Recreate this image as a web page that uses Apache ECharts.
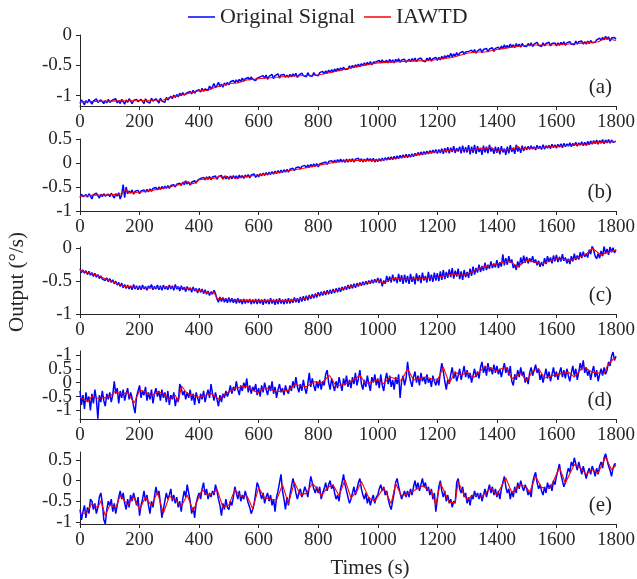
<!DOCTYPE html>
<html>
<head>
<meta charset="utf-8">
<script src="https://cdn.jsdelivr.net/npm/echarts@6/dist/echarts.min.js"></script>
<style>
  html, body { margin: 0; padding: 0; background: #fff; }
  #chart { width: 637px; height: 579px; }
</style>
</head>
<body>
<div id="chart"></div>
<script>
// 采样时间 (s)，每 5 s 一个点
const times = [];
for (let t = 0; t <= 1800; t += 5) times.push(t);

// 原始信号 (a)-(e)，按 times 取值，每行 100 s
const signalA = [
  -1.13,-1.07,-1.11,-1.15,-1.08,-1.12,-1.06,-1.10,-1.14,-1.09,-1.12,-1.05,-1.11,-1.14,-1.07,-1.10,-1.13,-1.08,-1.12,-1.06,
  -1.11,-1.14,-1.07,-1.10,-1.05,-1.12,-1.08,-1.13,-1.06,-1.10,-1.14,-1.07,-1.11,-1.05,-1.09,-1.13,-1.08,-1.11,-1.06,-1.10,
  -1.12,-1.06,-1.09,-1.13,-1.05,-1.10,-1.07,-1.12,-1.04,-1.09,-1.11,-1.05,-1.08,-1.12,-1.04,-1.09,-1.06,-1.11,-1.03,-1.07,
  -1.06,-1.01,-1.05,-0.99,-1.03,-0.98,-1.02,-0.96,-1.00,-0.95,-0.99,-1.02,-0.95,-0.98,-0.93,-0.97,-0.91,-0.96,-0.92,-0.95,
  -0.90,-0.94,-0.88,-0.93,-0.89,-0.86,-0.91,-0.84,-0.89,-0.85,-0.80,-0.87,-0.83,-0.78,-0.85,-0.81,-0.86,-0.79,-0.83,-0.78,
  -0.82,-0.77,-0.80,-0.75,-0.79,-0.74,-0.78,-0.73,-0.77,-0.71,-0.76,-0.72,-0.75,-0.70,-0.74,-0.69,-0.73,-0.70,-0.75,-0.71,
  -0.74,-0.69,-0.72,-0.67,-0.71,-0.66,-0.73,-0.68,-0.70,-0.65,-0.72,-0.67,-0.70,-0.64,-0.71,-0.66,-0.69,-0.65,-0.70,-0.66,
  -0.70,-0.65,-0.69,-0.64,-0.68,-0.63,-0.70,-0.66,-0.69,-0.63,-0.67,-0.64,-0.69,-0.62,-0.67,-0.65,-0.68,-0.62,-0.66,-0.64,
  -0.67,-0.62,-0.65,-0.60,-0.64,-0.59,-0.63,-0.58,-0.62,-0.57,-0.61,-0.56,-0.60,-0.55,-0.59,-0.54,-0.58,-0.53,-0.57,-0.54,
  -0.56,-0.51,-0.55,-0.50,-0.54,-0.49,-0.53,-0.48,-0.52,-0.47,-0.51,-0.46,-0.50,-0.45,-0.49,-0.44,-0.49,-0.45,-0.48,-0.44,
  -0.47,-0.42,-0.46,-0.41,-0.45,-0.48,-0.42,-0.46,-0.40,-0.45,-0.41,-0.46,-0.40,-0.44,-0.39,-0.45,-0.41,-0.44,-0.40,-0.45,
  -0.45,-0.40,-0.44,-0.39,-0.43,-0.38,-0.44,-0.40,-0.43,-0.38,-0.42,-0.39,-0.44,-0.38,-0.42,-0.37,-0.43,-0.39,-0.41,-0.37,
  -0.42,-0.37,-0.41,-0.35,-0.40,-0.34,-0.38,-0.33,-0.37,-0.30,-0.36,-0.31,-0.35,-0.29,-0.34,-0.30,-0.33,-0.27,-0.32,-0.28,
  -0.31,-0.27,-0.30,-0.25,-0.29,-0.24,-0.30,-0.26,-0.28,-0.23,-0.29,-0.24,-0.27,-0.22,-0.28,-0.23,-0.26,-0.21,-0.27,-0.22,
  -0.25,-0.20,-0.24,-0.18,-0.23,-0.16,-0.22,-0.17,-0.21,-0.15,-0.20,-0.16,-0.21,-0.14,-0.19,-0.15,-0.20,-0.14,-0.18,-0.15,
  -0.19,-0.14,-0.18,-0.13,-0.19,-0.15,-0.18,-0.12,-0.17,-0.14,-0.19,-0.13,-0.18,-0.14,-0.17,-0.12,-0.18,-0.14,-0.17,-0.13,
  -0.18,-0.13,-0.17,-0.12,-0.16,-0.11,-0.17,-0.13,-0.16,-0.11,-0.15,-0.12,-0.16,-0.10,-0.15,-0.11,-0.14,-0.10,-0.15,-0.11,
  -0.15,-0.10,-0.14,-0.09,-0.13,-0.11,-0.12,-0.08,-0.10,-0.05,-0.09,-0.04,-0.08,-0.02,-0.07,-0.03,-0.10,-0.05,-0.08,-0.04,
  -0.07
];
const signalB = [
  -0.72,-0.65,-0.70,-0.74,-0.66,-0.71,-0.64,-0.69,-0.75,-0.66,-0.70,-0.63,-0.68,-0.73,-0.65,-0.70,-0.64,-0.69,-0.72,-0.65,
  -0.70,-0.63,-0.68,-0.73,-0.64,-0.69,-0.62,-0.75,-0.66,-0.45,-0.72,-0.50,-0.64,-0.58,-0.63,-0.56,-0.65,-0.59,-0.62,-0.57,
  -0.64,-0.58,-0.62,-0.56,-0.61,-0.55,-0.60,-0.54,-0.59,-0.53,-0.57,-0.51,-0.56,-0.50,-0.55,-0.49,-0.54,-0.48,-0.53,-0.47,
  -0.53,-0.47,-0.51,-0.45,-0.50,-0.44,-0.48,-0.42,-0.47,-0.40,-0.45,-0.38,-0.44,-0.39,-0.46,-0.40,-0.43,-0.37,-0.42,-0.36,
  -0.38,-0.32,-0.36,-0.30,-0.35,-0.29,-0.34,-0.28,-0.35,-0.29,-0.33,-0.27,-0.34,-0.28,-0.32,-0.26,-0.34,-0.27,-0.33,-0.28,
  -0.34,-0.27,-0.33,-0.26,-0.32,-0.27,-0.33,-0.25,-0.31,-0.26,-0.32,-0.25,-0.30,-0.24,-0.31,-0.25,-0.29,-0.23,-0.30,-0.24,
  -0.29,-0.22,-0.27,-0.21,-0.26,-0.20,-0.25,-0.19,-0.24,-0.18,-0.23,-0.17,-0.22,-0.16,-0.21,-0.15,-0.20,-0.14,-0.19,-0.13,
  -0.19,-0.13,-0.17,-0.11,-0.16,-0.10,-0.14,-0.08,-0.13,-0.07,-0.11,-0.05,-0.10,-0.04,-0.09,-0.03,-0.08,-0.02,-0.07,-0.01,
  -0.08,-0.02,-0.06,0.00,-0.04,0.02,-0.03,0.03,-0.01,0.05,0.00,0.06,0.01,0.07,0.02,0.08,0.02,0.07,0.01,0.08,
  0.02,0.08,0.03,0.09,0.02,0.08,0.04,0.10,0.03,0.09,0.02,0.08,0.03,0.10,0.04,0.09,0.03,0.10,0.02,0.08,
  0.03,0.09,0.04,0.10,0.05,0.11,0.06,0.12,0.07,0.13,0.07,0.14,0.08,0.15,0.09,0.16,0.10,0.17,0.11,0.18,
  0.11,0.18,0.12,0.19,0.13,0.20,0.15,0.22,0.16,0.23,0.17,0.24,0.18,0.25,0.19,0.26,0.20,0.27,0.21,0.28,
  0.20,0.28,0.21,0.30,0.19,0.31,0.22,0.33,0.20,0.32,0.23,0.35,0.21,0.31,0.24,0.34,0.20,0.36,0.22,0.33,
  0.22,0.37,0.18,0.34,0.21,0.38,0.19,0.35,0.23,0.32,0.17,0.36,0.22,0.34,0.20,0.38,0.24,0.31,0.19,0.34,
  0.21,0.33,0.18,0.35,0.22,0.30,0.17,0.34,0.20,0.37,0.23,0.32,0.19,0.38,0.24,0.33,0.21,0.36,0.25,0.34,
  0.27,0.35,0.28,0.36,0.29,0.34,0.27,0.37,0.30,0.35,0.28,0.38,0.29,0.36,0.31,0.37,0.30,0.39,0.32,0.38,
  0.31,0.39,0.33,0.40,0.32,0.41,0.34,0.40,0.35,0.42,0.34,0.41,0.36,0.43,0.35,0.42,0.37,0.44,0.36,0.43,
  0.37,0.45,0.38,0.46,0.39,0.47,0.40,0.48,0.39,0.47,0.41,0.49,0.40,0.48,0.42,0.49,0.41,0.48,0.43,0.47,
  0.45
];
const signalC = [
  -0.31,-0.37,-0.33,-0.38,-0.34,-0.40,-0.35,-0.41,-0.37,-0.43,-0.38,-0.44,-0.40,-0.46,-0.42,-0.47,-0.44,-0.49,-0.45,-0.51,
  -0.46,-0.52,-0.48,-0.54,-0.50,-0.56,-0.52,-0.58,-0.53,-0.60,-0.55,-0.61,-0.56,-0.62,-0.57,-0.63,-0.55,-0.62,-0.57,-0.63,
  -0.57,-0.63,-0.56,-0.62,-0.58,-0.64,-0.57,-0.61,-0.55,-0.63,-0.58,-0.62,-0.56,-0.63,-0.57,-0.64,-0.56,-0.62,-0.58,-0.63,
  -0.56,-0.62,-0.57,-0.64,-0.55,-0.62,-0.58,-0.65,-0.57,-0.63,-0.59,-0.66,-0.58,-0.64,-0.60,-0.67,-0.59,-0.65,-0.61,-0.68,
  -0.61,-0.67,-0.62,-0.69,-0.63,-0.70,-0.65,-0.72,-0.66,-0.70,-0.64,-0.69,-0.77,-0.82,-0.74,-0.81,-0.75,-0.82,-0.76,-0.83,
  -0.75,-0.82,-0.76,-0.83,-0.77,-0.84,-0.76,-0.83,-0.78,-0.85,-0.77,-0.84,-0.78,-0.83,-0.77,-0.85,-0.78,-0.84,-0.77,-0.85,
  -0.77,-0.84,-0.78,-0.86,-0.77,-0.84,-0.78,-0.85,-0.76,-0.84,-0.78,-0.86,-0.77,-0.85,-0.76,-0.84,-0.78,-0.85,-0.77,-0.84,
  -0.76,-0.84,-0.77,-0.83,-0.75,-0.82,-0.76,-0.83,-0.74,-0.81,-0.73,-0.80,-0.72,-0.79,-0.71,-0.77,-0.70,-0.76,-0.69,-0.75,
  -0.67,-0.73,-0.66,-0.72,-0.65,-0.71,-0.64,-0.70,-0.63,-0.69,-0.62,-0.68,-0.61,-0.67,-0.60,-0.66,-0.59,-0.64,-0.58,-0.63,
  -0.56,-0.62,-0.55,-0.61,-0.54,-0.60,-0.53,-0.58,-0.52,-0.57,-0.51,-0.56,-0.50,-0.55,-0.49,-0.54,-0.48,-0.53,-0.47,-0.52,
  -0.45,-0.53,-0.46,-0.58,-0.49,-0.54,-0.42,-0.51,-0.43,-0.52,-0.40,-0.50,-0.44,-0.53,-0.39,-0.51,-0.41,-0.54,-0.40,-0.52,
  -0.42,-0.54,-0.39,-0.51,-0.43,-0.55,-0.38,-0.50,-0.41,-0.53,-0.37,-0.49,-0.42,-0.52,-0.36,-0.50,-0.40,-0.51,-0.37,-0.49,
  -0.38,-0.50,-0.35,-0.48,-0.33,-0.47,-0.36,-0.45,-0.32,-0.44,-0.30,-0.46,-0.34,-0.43,-0.31,-0.47,-0.35,-0.48,-0.33,-0.44,
  -0.36,-0.45,-0.31,-0.42,-0.28,-0.40,-0.30,-0.37,-0.25,-0.36,-0.27,-0.34,-0.22,-0.33,-0.25,-0.31,-0.20,-0.30,-0.23,-0.29,
  -0.18,-0.30,-0.21,-0.28,-0.09,-0.26,-0.15,-0.25,-0.12,-0.22,-0.17,-0.30,-0.25,-0.33,-0.20,-0.29,-0.14,-0.24,-0.11,-0.22,
  -0.13,-0.23,-0.15,-0.21,-0.12,-0.22,-0.17,-0.26,-0.19,-0.28,-0.21,-0.27,-0.15,-0.24,-0.12,-0.21,-0.14,-0.23,-0.11,-0.20,
  -0.10,-0.21,-0.13,-0.20,-0.09,-0.19,-0.14,-0.23,-0.16,-0.24,-0.12,-0.20,-0.08,-0.18,-0.11,-0.17,-0.06,-0.15,-0.05,-0.13,
  -0.08,-0.14,-0.02,-0.09,0.04,-0.03,-0.12,-0.16,-0.08,-0.15,-0.04,-0.12,0.03,-0.08,-0.01,-0.10,0.02,-0.06,0.01,-0.07,
  -0.02
];
const signalD = [
  -0.30,-0.80,-0.45,-0.95,-0.35,-0.70,-0.50,-1.00,-0.40,-0.75,-0.25,-0.60,-1.30,-0.45,-0.70,-0.30,-0.65,-0.85,-0.40,-0.60,
  -0.35,-0.70,-0.45,0.05,-0.40,-0.20,-0.75,-0.30,-0.55,-0.25,-0.65,-0.40,-0.20,-0.60,-0.35,-0.55,-0.85,-1.10,-0.50,-0.30,
  -0.10,-0.55,-0.30,-0.45,-0.15,-0.65,-0.35,-0.60,-0.25,-0.75,-0.40,-0.20,-0.50,-0.30,-0.65,-0.25,-0.55,-0.35,-0.70,-0.30,
  -0.80,-0.45,-0.60,-0.35,-0.85,-0.55,-0.70,-0.05,-0.20,-0.45,-0.30,-0.60,-0.35,-0.55,-0.25,-0.65,-0.40,-0.80,-0.35,-0.55,
  -0.75,-0.40,-0.60,-0.30,-0.70,-0.45,-0.25,-0.55,-0.05,-0.40,-0.65,-0.35,-0.60,-0.85,-0.45,-0.70,-0.40,-0.55,-0.30,-0.50,
  -0.35,-0.10,-0.40,-0.15,-0.30,0.05,-0.25,-0.45,-0.10,-0.30,0.00,-0.20,0.15,-0.35,-0.10,-0.40,-0.15,-0.30,-0.05,-0.45,
  -0.20,-0.50,-0.10,-0.35,0.00,-0.25,-0.45,-0.10,-0.30,0.05,-0.40,-0.15,-0.55,-0.25,-0.05,-0.35,-0.20,-0.45,-0.10,-0.30,
  -0.40,-0.10,-0.30,0.05,-0.20,0.20,-0.15,-0.35,-0.05,-0.30,0.10,-0.20,-0.40,-0.05,0.35,-0.15,0.15,-0.10,-0.30,0.05,
  -0.20,0.10,-0.25,0.05,-0.10,0.30,0.45,0.00,-0.25,0.15,-0.10,-0.30,0.05,-0.20,0.20,-0.05,-0.30,0.15,-0.10,0.25,
  -0.15,0.10,-0.20,0.20,-0.05,0.35,-0.10,0.15,0.45,-0.05,-0.25,0.10,-0.15,0.25,-0.05,-0.30,0.20,0.00,0.30,-0.10,
  0.15,-0.20,0.30,-0.10,-0.30,0.10,0.35,-0.05,0.25,-0.15,0.10,-0.25,0.20,-0.05,0.30,-0.55,0.05,0.25,-0.10,0.15,
  0.75,0.30,0.05,-0.15,0.20,0.40,0.00,0.25,-0.10,0.35,0.05,0.20,-0.05,0.30,0.00,0.15,-0.15,0.25,0.05,-0.10,
  0.15,-0.10,0.35,0.70,0.40,0.05,-0.25,0.10,-0.05,0.30,0.55,0.15,0.40,0.05,0.25,0.50,0.10,0.35,0.60,0.20,
  0.45,0.15,0.35,0.00,0.25,0.50,0.20,0.40,0.15,0.55,0.75,0.35,0.60,0.25,0.70,0.40,0.55,0.30,0.65,0.35,
  0.60,0.30,0.50,0.20,0.45,0.70,0.35,0.55,0.25,0.60,0.05,-0.10,0.30,0.10,0.45,0.20,0.55,0.25,0.40,0.00,
  0.20,-0.05,0.35,0.55,0.25,0.45,0.65,0.35,0.50,0.10,0.30,0.00,0.25,0.50,0.15,0.40,0.05,0.30,0.55,0.20,
  0.40,0.10,0.35,0.55,0.20,0.45,0.15,0.50,0.25,0.05,0.35,0.60,0.25,0.50,0.10,0.40,0.70,0.45,0.80,0.35,
  0.55,0.25,0.45,0.10,0.40,0.60,0.20,0.45,0.05,0.30,0.50,0.25,0.55,0.30,0.45,0.75,0.60,0.95,1.10,0.80,
  0.95
];
const signalE = [
  -0.70,-0.95,-0.75,-0.60,-0.90,-0.65,-0.80,-0.45,-0.50,-0.70,-0.55,-0.80,-0.65,-0.40,-0.30,-0.55,-0.95,-1.05,-0.70,-0.50,
  -0.60,-0.45,-0.75,-0.55,-0.80,-0.60,-0.40,-0.25,-0.45,-0.30,-0.55,-0.70,-0.45,-0.65,-0.35,-0.50,-0.30,-0.45,-0.60,-0.40,
  -0.85,-0.60,-0.45,-0.25,-0.50,-0.35,-0.60,-0.80,-0.50,-0.65,-0.40,-0.15,-0.35,-0.25,-0.55,-0.90,-0.70,-0.50,-0.30,-0.45,
  -0.35,-0.20,-0.50,-0.35,-0.55,-0.40,-0.65,-0.50,-0.75,-0.45,-0.25,-0.40,-0.10,-0.30,-0.50,-0.80,-0.65,-0.90,-0.55,-0.40,
  -0.30,-0.45,-0.20,-0.05,-0.35,-0.20,-0.45,-0.30,-0.40,-0.25,-0.35,-0.10,-0.25,-0.45,-0.60,-0.85,-0.55,-0.70,-0.45,-0.65,
  -0.70,-0.50,-0.60,-0.40,-0.15,-0.30,-0.45,-0.25,-0.50,-0.35,-0.45,-0.25,-0.40,-0.55,-0.65,-0.80,-0.70,-0.55,-0.30,-0.05,
  -0.15,-0.30,-0.45,-0.30,-0.55,-0.40,-0.30,-0.50,-0.35,-0.60,-0.45,-0.75,-0.40,-0.25,-0.05,0.15,-0.25,-0.45,-0.70,-0.40,
  -0.60,-0.35,-0.15,0.05,-0.10,-0.30,-0.45,-0.30,-0.20,-0.40,-0.30,-0.15,-0.25,-0.40,-0.15,0.10,-0.05,-0.20,-0.30,-0.15,
  -0.30,-0.15,-0.45,-0.30,-0.20,-0.05,-0.25,-0.10,0.00,-0.20,-0.10,-0.30,-0.45,-0.35,-0.50,-0.20,-0.05,0.15,-0.10,-0.25,
  -0.40,-0.55,-0.45,-0.30,-0.15,-0.35,-0.20,-0.05,0.05,-0.20,-0.35,-0.45,-0.30,-0.55,-0.40,-0.60,-0.45,-0.35,-0.55,-0.40,
  -0.35,-0.20,-0.10,-0.25,-0.15,-0.35,-0.25,-0.45,-0.60,-0.70,-0.50,-0.30,-0.05,0.05,-0.15,-0.30,-0.45,-0.35,-0.25,-0.40,
  -0.25,-0.40,-0.20,-0.35,-0.15,0.00,-0.20,-0.05,-0.25,-0.10,0.05,-0.15,-0.05,-0.25,-0.15,-0.35,-0.20,-0.45,-0.30,-0.75,
  -0.45,-0.15,0.00,-0.25,-0.40,-0.25,-0.50,-0.35,-0.55,-0.45,-0.65,-0.50,-0.55,-0.05,0.05,-0.20,-0.30,-0.15,-0.40,-0.30,
  -0.55,-0.40,-0.60,-0.35,-0.45,-0.25,-0.40,-0.30,-0.45,-0.30,-0.50,-0.35,-0.20,-0.40,-0.25,-0.10,-0.30,-0.15,-0.35,-0.20,
  -0.40,-0.25,-0.45,-0.20,-0.05,0.10,-0.15,-0.30,-0.20,-0.45,-0.25,-0.40,-0.15,-0.30,-0.05,-0.20,0.00,-0.15,-0.25,-0.10,
  -0.20,-0.35,-0.25,-0.40,-0.05,0.10,0.20,-0.05,-0.20,-0.10,-0.25,-0.35,-0.15,-0.30,-0.05,-0.20,-0.10,-0.25,0.00,-0.10,
  0.10,0.25,0.40,0.15,0.00,-0.15,-0.05,0.15,0.30,0.20,0.45,0.35,0.55,0.40,0.25,0.45,0.30,0.15,0.35,0.20,
  0.05,0.20,0.30,0.15,0.35,0.25,0.10,0.30,0.15,0.35,0.45,0.30,0.55,0.65,0.50,0.35,0.25,0.10,0.30,0.40,
  0.40
];

// IAWTD 去噪结果 [时间, 值]
const iawtdA = [
  [0,-1.10],[100,-1.09],[200,-1.08],[280,-1.07],[300,-1.03],[350,-0.98],[400,-0.92],
  [430,-0.91],[450,-0.87],[500,-0.80],[530,-0.79],[560,-0.74],[600,-0.72],[700,-0.68],
  [800,-0.66],[850,-0.61],[900,-0.55],[950,-0.50],[1000,-0.46],[1100,-0.43],[1180,-0.42],
  [1200,-0.40],[1250,-0.37],[1300,-0.30],[1330,-0.28],[1360,-0.28],[1400,-0.24],[1450,-0.20],
  [1500,-0.17],[1600,-0.16],[1700,-0.13],[1740,-0.11],[1760,-0.06],[1780,-0.07],[1800,-0.09]
];
const iawtdB = [
  [0,-0.69],[50,-0.67],[100,-0.66],[140,-0.64],[155,-0.56],[165,-0.62],[200,-0.61],[250,-0.56],
  [300,-0.50],[340,-0.44],[355,-0.37],[370,-0.44],[390,-0.41],[400,-0.35],[420,-0.33],[440,-0.32],
  [460,-0.31],[470,-0.27],[480,-0.33],[490,-0.27],[500,-0.33],[510,-0.28],[520,-0.32],[540,-0.30],
  [560,-0.28],[600,-0.25],[650,-0.21],[700,-0.16],[750,-0.11],[800,-0.05],[850,0.01],[900,0.05],
  [1000,0.06],[1050,0.09],[1100,0.14],[1150,0.19],[1200,0.24],[1250,0.27],[1300,0.28],[1320,0.27],
  [1340,0.30],[1360,0.29],[1380,0.33],[1400,0.24],[1420,0.28],[1440,0.27],[1460,0.31],[1470,0.35],
  [1480,0.28],[1500,0.31],[1550,0.32],[1600,0.35],[1650,0.37],[1690,0.40],[1700,0.37],[1720,0.42],
  [1800,0.45]
];
const iawtdC = [
  [0,-0.34],[50,-0.40],[100,-0.49],[150,-0.58],[200,-0.60],[250,-0.60],[300,-0.59],[350,-0.60],
  [400,-0.64],[440,-0.69],[450,-0.67],[460,-0.76],[500,-0.78],[600,-0.80],[700,-0.80],[750,-0.77],
  [800,-0.70],[850,-0.65],[900,-0.59],[950,-0.54],[1000,-0.49],[1020,-0.53],[1050,-0.46],[1100,-0.47],
  [1150,-0.46],[1200,-0.44],[1250,-0.39],[1290,-0.41],[1300,-0.39],[1350,-0.29],[1400,-0.24],[1440,-0.19],
  [1470,-0.28],[1500,-0.18],[1550,-0.24],[1600,-0.16],[1650,-0.18],[1700,-0.09],[1720,0.00],[1750,-0.10],
  [1780,-0.05],[1800,-0.03]
];
const iawtdD = [
  [0,-0.53],[25,-0.68],[40,-0.50],[60,-0.56],[80,-0.55],[100,-0.50],[117,-0.32],[140,-0.41],
  [160,-0.36],[182,-0.73],[201,-0.27],[220,-0.33],[240,-0.48],[260,-0.33],[280,-0.39],[300,-0.63],
  [320,-0.45],[330,-0.69],[341,-0.12],[360,-0.39],[400,-0.53],[440,-0.39],[467,-0.60],[480,-0.45],
  [520,-0.21],[542,-0.15],[560,-0.13],[580,-0.27],[598,-0.36],[620,-0.17],[660,-0.33],[700,-0.27],
  [721,-0.07],[760,-0.15],[788,0.03],[810,-0.02],[838,0.26],[860,-0.12],[900,-0.02],[940,0.26],
  [960,-0.04],[1000,0.10],[1020,-0.04],[1040,0.20],[1080,0.08],[1100,0.50],[1120,0.10],[1160,0.20],
  [1200,0.08],[1220,0.56],[1240,-0.02],[1260,0.38],[1280,0.26],[1300,0.38],[1320,0.17],[1360,0.58],
  [1400,0.44],[1430,0.56],[1450,0.14],[1480,0.34],[1500,0.06],[1520,0.41],[1540,0.50],[1560,0.17],
  [1600,0.29],[1640,0.38],[1660,0.20],[1690,0.58],[1720,0.38],[1760,0.32],[1770,0.58],[1790,0.85],
  [1800,0.88]
];
const iawtdE = [
  [0,-0.79],[20,-0.79],[40,-0.56],[60,-0.66],[70,-0.49],[85,-0.85],[100,-0.59],[120,-0.66],
  [135,-0.36],[160,-0.59],[180,-0.40],[200,-0.70],[220,-0.40],[240,-0.61],[260,-0.28],[280,-0.79],
  [300,-0.38],[320,-0.46],[340,-0.63],[360,-0.35],[380,-0.73],[410,-0.22],[430,-0.36],[450,-0.29],
  [460,-0.20],[480,-0.65],[500,-0.59],[520,-0.22],[540,-0.38],[560,-0.36],[580,-0.68],[600,-0.17],
  [620,-0.42],[660,-0.47],[680,-0.10],[700,-0.56],[720,-0.04],[740,-0.35],[760,-0.31],[780,-0.07],
  [800,-0.22],[810,-0.38],[830,-0.17],[850,-0.11],[870,-0.36],[890,0.02],[910,-0.42],[930,-0.26],
  [945,-0.02],[970,-0.42],[990,-0.50],[1020,-0.17],[1045,-0.56],[1060,-0.07],[1080,-0.38],[1110,-0.29],
  [1150,-0.13],[1180,-0.26],[1195,-0.59],[1210,-0.06],[1240,-0.53],[1260,-0.53],[1270,-0.02],[1290,-0.35],
  [1300,-0.46],[1320,-0.35],[1350,-0.38],[1380,-0.17],[1400,-0.35],[1430,0.06],[1450,-0.29],[1480,-0.10],
  [1500,-0.17],[1510,-0.29],[1530,0.10],[1550,-0.17],[1580,-0.17],[1610,0.31],[1630,-0.06],[1660,0.39],
  [1680,0.31],[1700,0.15],[1720,0.26],[1740,0.18],[1765,0.57],[1785,0.26],[1800,0.37]
];

const xTicks = [0, 200, 400, 600, 800, 1000, 1200, 1400, 1600, 1800];
const panelNames = ['(a)', '(b)', '(c)', '(d)', '(e)'];
const yTicks = [
  [-1, -0.5, 0],
  [-1, -0.5, 0, 0.5],
  [-1, -0.5, 0],
  [-1, 0, 1],
  [-1, -0.5, 0, 0.5]
];
// (d) 的半格刻度放在叠加的第二根 y 轴上，避免标签被自动隐藏
const yTicksDHalf = [-0.5, 0.5];
const yRanges = [[-1.17, 0], [-1, 0.5], [-1, 0.02], [-1.31, 1.14], [-1.05, 0.69]];

const signals = [signalA, signalB, signalC, signalD, signalE];
const iawtds = [iawtdA, iawtdB, iawtdC, iawtdD, iawtdE];

// 每个子图的位置
const layout = [
  {top: 35, height: 71},
  {top: 139, height: 72},
  {top: 247, height: 67},
  {top: 351, height: 68},
  {top: 452, height: 72}
];

const FONT = '"Liberation Serif", "DejaVu Serif", serif';
const TXT = '#262626';

const myChart = echarts.init(document.getElementById('chart'));

const grids = [], xAxes = [], yAxes = [], series = [], graphics = [];

function yAxisOf(gridIndex, range, ticks, showLine, fmt) {
  return {
    type: 'value', gridIndex: gridIndex, position: 'left', min: range[0], max: range[1],
    axisLine: {show: showLine, onZero: false, lineStyle: {color: TXT, width: 1}},
    axisTick: {show: true, length: 4, customValues: ticks, lineStyle: {color: TXT}},
    axisLabel: {
      customValues: ticks, margin: 8, fontSize: 19, fontFamily: FONT, color: TXT,
      interval: 0, hideOverlap: false, formatter: fmt || (v => String(v))
    },
    splitLine: {show: false}
  };
}

layout.forEach((p, i) => {
  grids.push({
    left: 80, right: 21, top: p.top, height: p.height,
    containLabel: false, outerBoundsMode: 'none'
  });
  xAxes.push({
    type: 'value', gridIndex: i, min: 0, max: 1800,
    axisLine: {show: true, onZero: false, lineStyle: {color: TXT, width: 1}},
    axisTick: {show: true, length: 4, inside: false, customValues: xTicks, lineStyle: {color: TXT}},
    axisLabel: {
      customValues: xTicks, margin: 7, fontSize: 19, fontFamily: FONT, color: TXT,
      interval: 0, hideOverlap: false, formatter: v => String(v)
    },
    splitLine: {show: false}
  });
  // 原图 (d) 顶部刻度写作 "-1"
  yAxes.push(yAxisOf(i, yRanges[i], yTicks[i], true,
    v => (i === 3 && v === 1) ? '-1' : String(v)));
  series.push({
    name: 'Original Signal', type: 'line', xAxisIndex: i, yAxisIndex: i,
    data: times.map((t, k) => [t, signals[i][k]]),
    showSymbol: false, lineStyle: {color: '#0000ff', width: 1.5}, itemStyle: {color: '#0000ff'},
    animation: false, z: 2
  });
  series.push({
    name: 'IAWTD', type: 'line', xAxisIndex: i, yAxisIndex: i,
    data: iawtds[i],
    showSymbol: false, lineStyle: {color: '#ff0000', width: 1.1}, itemStyle: {color: '#ff0000'},
    animation: false, z: 3
  });
  graphics.push({
    type: 'text', right: 25, top: p.top + p.height - 29,
    style: {text: panelNames[i], font: '21px ' + FONT, fill: TXT}
  });
});
yAxes.push(yAxisOf(3, yRanges[3], yTicksDHalf, false));

// 坐标轴名称
graphics.push({
  type: 'text', x: 17, y: 282, rotation: Math.PI / 2,
  style: {text: 'Output (°/s)', font: '21px ' + FONT, fill: TXT, align: 'center', verticalAlign: 'middle'}
});
graphics.push({
  type: 'text', x: 370, y: 568,
  style: {text: 'Times (s)', font: '21px ' + FONT, fill: TXT, align: 'center', verticalAlign: 'middle'}
});

myChart.setOption({
  animation: false,
  backgroundColor: '#fff',
  legend: {
    left: 188, top: 6, padding: 0, itemGap: 9,
    itemWidth: 27, itemHeight: 1.5, icon: 'rect',
    data: ['Original Signal', 'IAWTD'],
    textStyle: {fontSize: 22, fontFamily: FONT, color: TXT}
  },
  grid: grids,
  xAxis: xAxes,
  yAxis: yAxes,
  series: series,
  graphic: graphics
});
</script>
</body>
</html>
